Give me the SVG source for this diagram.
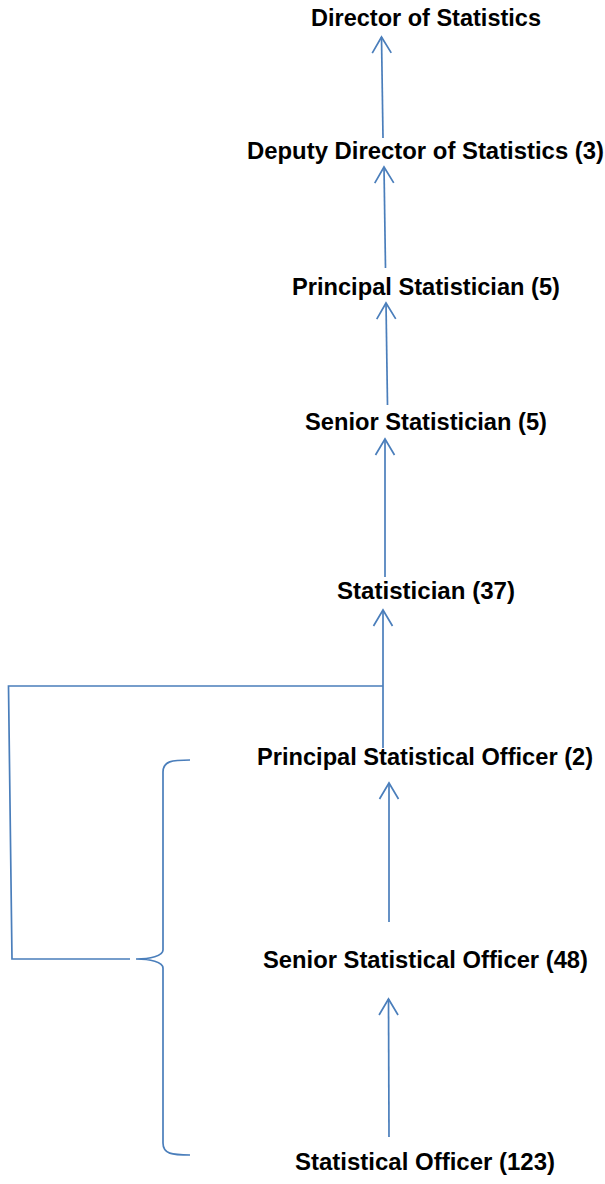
<svg xmlns="http://www.w3.org/2000/svg" width="605" height="1184" viewBox="0 0 605 1184">
<style>
.t{font-family:"Liberation Sans",Arial,sans-serif;font-weight:bold;font-size:23px;fill:#000}
.c{fill:none;stroke:#4a7ebb;stroke-width:1.7}
</style>
<defs>
<marker id="ah" markerUnits="userSpaceOnUse" markerWidth="24" markerHeight="24" refX="0" refY="0" viewBox="-18 -12 20 24" orient="auto" overflow="visible">
<path d="M-16,-9.5 L0,0 L-16,9.5" fill="none" stroke="#4a7ebb" stroke-width="1.7"/>
</marker>
</defs>
<rect width="605" height="1184" fill="#fff"/>
<g id="connectors">
<path class="c" d="M383,138 L381.5,37" marker-end="url(#ah)"/>
<path class="c" d="M385.5,268 L384,167" marker-end="url(#ah)"/>
<path class="c" d="M387.5,405 L386,303" marker-end="url(#ah)"/>
<path class="c" d="M385,577 L385,439" marker-end="url(#ah)"/>
<path class="c" d="M383,748 L383,610" marker-end="url(#ah)"/>
<path class="c" d="M389,922 L389,783" marker-end="url(#ah)"/>
<path class="c" d="M389,1137 L388.5,999" marker-end="url(#ah)"/>
<path class="c" d="M383,686 L8.5,686 L12,959 L130,959"/>
<path class="c" d="M190,760 C172,760 163,761 163,772 L163,950 C163,956 150,959 136,959 C150,959 163,962 163,968 L163,1143 C163,1154 172,1155 190,1155"/>
</g>
<g id="n1"><text class="t" x="311" y="26" textLength="230" lengthAdjust="spacingAndGlyphs">Director of Statistics</text></g>
<g id="n2"><text class="t" x="247" y="159" textLength="357" lengthAdjust="spacingAndGlyphs">Deputy Director of Statistics (3)</text></g>
<g id="n3"><text class="t" x="292" y="295" textLength="268" lengthAdjust="spacingAndGlyphs">Principal Statistician (5)</text></g>
<g id="n4"><text class="t" x="305" y="430" textLength="242" lengthAdjust="spacingAndGlyphs">Senior Statistician (5)</text></g>
<g id="n5"><text class="t" x="337" y="599" textLength="178" lengthAdjust="spacingAndGlyphs">Statistician (37)</text></g>
<g id="n6"><text class="t" x="257" y="765" textLength="336" lengthAdjust="spacingAndGlyphs">Principal Statistical Officer (2)</text></g>
<g id="n7"><text class="t" x="263" y="968" textLength="325" lengthAdjust="spacingAndGlyphs">Senior Statistical Officer (48)</text></g>
<g id="n8"><text class="t" x="295" y="1170" textLength="260" lengthAdjust="spacingAndGlyphs">Statistical Officer (123)</text></g>
</svg>
